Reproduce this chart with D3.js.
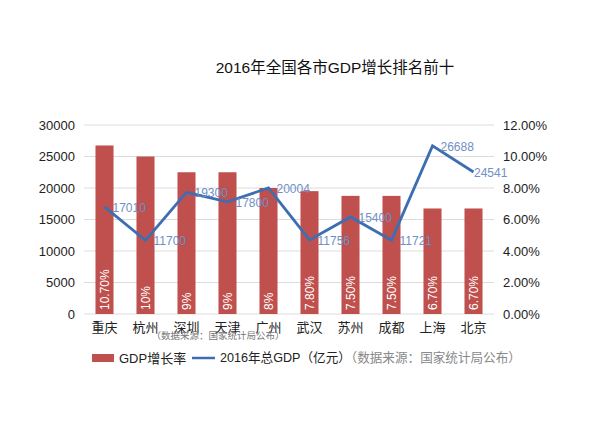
<!DOCTYPE html>
<html><head><meta charset="utf-8">
<script src="https://cdn.jsdelivr.net/npm/d3@7"></script>
<style>
body{margin:0;background:#fff;}
text{font-family:"Liberation Sans","Noto Sans CJK SC",sans-serif;}
</style></head>
<body><svg id="c" width="600" height="440"></svg>
<script>
const categories = ["重庆","杭州","深圳","天津","广州","武汉","苏州","成都","上海","北京"];
const growthRate = [10.7, 10, 9, 9, 8, 7.8, 7.5, 7.5, 6.7, 6.7];
const growthLabels = ["10.70%","10%","9%","9%","8%","7.80%","7.50%","7.50%","6.70%","6.70%"];
// plotted positions as drawn in the reference (北京 is drawn at ~22541 though labelled 24541)
const gdpTotal = [17010, 11700, 19300, 17800, 20004, 11756, 15400, 11721, 26688, 22541];
const gdpLabels = ["17010","11700","19300","17800","20004","11756","15400","11721","26688","24541"];
const leftTicks = [0,5000,10000,15000,20000,25000,30000];
const rightTicks = [0,2,4,6,8,10,12];
const title = "2016年全国各市GDP增长排名前十";
const sourceNote = "（数据来源：国家统计局公布）";

const svg = d3.select("#c");
const m = {l:84, r:494, t:125, b:314};
const x = d3.scaleBand().domain(categories).range([m.l, m.r]).paddingInner(0.56).paddingOuter(0.28);
const yL = d3.scaleLinear().domain([0,30000]).range([m.b, m.t]);
const yR = d3.scaleLinear().domain([0,12]).range([m.b, m.t]);
const FF = '"Liberation Sans","Noto Sans CJK SC",sans-serif';

svg.append("text").attr("x",335).attr("y",73).attr("text-anchor","middle")
  .attr("font-size",15.5).attr("fill","#111").text(title);

// gridlines
svg.append("g").selectAll("line").data(leftTicks).join("line")
  .attr("x1",m.l).attr("x2",m.r).attr("y1",d=>yL(d)).attr("y2",d=>yL(d))
  .attr("stroke","#dcdcdc").attr("stroke-width",1);

// left axis
const gl = svg.append("g").attr("transform",`translate(${m.l},0)`)
  .call(d3.axisLeft(yL).tickValues(leftTicks).tickSize(0).tickPadding(9).tickFormat(d3.format("d")));
gl.select(".domain").remove();
gl.selectAll("text").attr("font-size",13).attr("fill","#222").style("font-family",FF);

// right axis
const gr = svg.append("g").attr("transform",`translate(${m.r},0)`)
  .call(d3.axisRight(yR).tickValues(rightTicks).tickSize(0).tickPadding(9).tickFormat(d=>d.toFixed(2)+"%"));
gr.select(".domain").remove();
gr.selectAll("text").attr("font-size",13).attr("fill","#222").style("font-family",FF);

// bottom axis
const gb = svg.append("g").attr("transform",`translate(0,${m.b})`)
  .call(d3.axisBottom(x).tickSize(0).tickPadding(9));
gb.select(".domain").remove();
gb.selectAll("text").attr("font-size",13).attr("fill","#222").style("font-family",FF);

// bars
svg.append("g").selectAll("rect").data(categories).join("rect")
  .attr("x",d=>x(d)).attr("width",x.bandwidth())
  .attr("y",(d,i)=>yR(growthRate[i])).attr("height",(d,i)=>m.b-yR(growthRate[i]))
  .attr("fill","#c0504d");

svg.append("g").selectAll("text").data(categories).join("text")
  .attr("transform",d=>`translate(${x(d)+x.bandwidth()/2},${m.b-4}) rotate(-90)`)
  .attr("dominant-baseline","central").attr("font-size",12).attr("fill","#fff")
  .text((d,i)=>growthLabels[i]);

// line
const px = i => x(categories[i])+x.bandwidth()/2;
const line = d3.line().x((d,i)=>px(i)).y(d=>yL(d));
svg.append("path").datum(gdpTotal).attr("d",line).attr("fill","none")
  .attr("stroke","#3e6eb2").attr("stroke-width",2.8).attr("stroke-linejoin","miter");

svg.append("g").selectAll("text").data(gdpTotal).join("text")
  .attr("x",(d,i)=>Math.min(px(i)+8, m.r-20)).attr("y",d=>yL(d)+1)
  .attr("dominant-baseline","central").attr("font-size",12).attr("fill","#6f8fc6")
  .text((d,i)=>gdpLabels[i]);

// overlapping source note (as in the reference)
svg.append("text").attr("x",218).attr("y",335).attr("text-anchor","middle")
  .attr("dominant-baseline","central").attr("font-size",9.5).attr("fill","#777").text(sourceNote);

// legend
const lg = svg.append("g");
lg.append("rect").attr("x",92).attr("y",354).attr("width",22).attr("height",8).attr("fill","#c0504d");
lg.append("text").attr("x",119).attr("y",358).attr("dominant-baseline","central").attr("font-size",13).attr("fill","#222").text("GDP增长率");
lg.append("line").attr("x1",192).attr("x2",215).attr("y1",358).attr("y2",358).attr("stroke","#3e6eb2").attr("stroke-width",2.5);
const lt = lg.append("text").attr("x",220).attr("y",358).attr("dominant-baseline","central").attr("font-size",12.6);
lt.append("tspan").attr("fill","#222").text("2016年总GDP（亿元）");
lt.append("tspan").attr("fill","#888").text(sourceNote);
</script></body></html>
